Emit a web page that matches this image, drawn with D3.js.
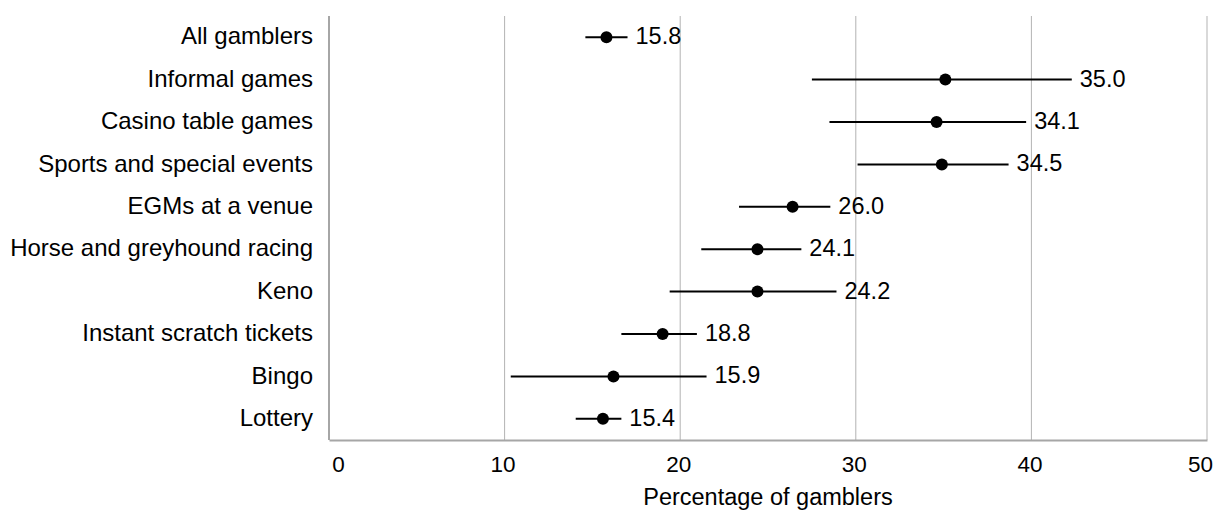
<!DOCTYPE html>
<html>
<head>
<meta charset="utf-8">
<script src="https://cdn.jsdelivr.net/npm/d3@7"></script>
<style>
  html, body { margin: 0; padding: 0; background: #fff; }
  svg { display: block; }
  text { font-family: "Liberation Sans", Arial, Helvetica, sans-serif; fill: #000; }
</style>
</head>
<body>
<svg id="chart" width="1215" height="510"></svg>
<script>
const categories = [
  "All gamblers", "Informal games", "Casino table games", "Sports and special events",
  "EGMs at a venue", "Horse and greyhound racing", "Keno", "Instant scratch tickets",
  "Bingo", "Lottery"
];
const pointValues = [15.8, 35.1, 34.6, 34.9, 26.4, 24.4, 24.4, 19.0, 16.2, 15.6];
const lowerValues = [14.6, 27.5, 28.5, 30.1, 23.35, 21.2, 19.4, 16.65, 10.35, 14.05];
const upperValues = [17.0, 42.3, 39.7, 38.7, 28.55, 26.9, 28.9, 20.95, 21.5, 16.65];
const labelTexts = ["15.8", "35.0", "34.1", "34.5", "26.0", "24.1", "24.2", "18.8", "15.9", "15.4"];
const xTicks = [0, 10, 20, 30, 40, 50];
const xTitle = "Percentage of gamblers";

const data = categories.map((c, i) => ({
  cat: c, v: pointValues[i], lo: lowerValues[i], hi: upperValues[i], label: labelTexts[i]
}));

const FONT = '"Liberation Sans", Arial, Helvetica, sans-serif';
const svg = d3.select("#chart");
const mLeft = 329, mRight = 1207, mTop = 16, mBottom = 440;

const x = d3.scaleLinear().domain([0, 50]).range([mLeft, mRight]);
const y = d3.scaleBand().domain(categories).range([mTop, mBottom]);

// gridlines
svg.append("g")
  .selectAll("line")
  .data(xTicks.filter(t => t > 0))
  .join("line")
  .attr("x1", d => x(d)).attr("x2", d => x(d))
  .attr("y1", mTop).attr("y2", mBottom)
  .attr("stroke", "#b3b3b3").attr("stroke-width", 1);

// left axis line
svg.append("line")
  .attr("x1", mLeft).attr("x2", mLeft).attr("y1", mTop).attr("y2", mBottom)
  .attr("stroke", "#a6a6a6").attr("stroke-width", 2);

// bottom axis
const xAxis = svg.append("g")
  .attr("transform", `translate(0,${mBottom})`)
  .call(d3.axisBottom(x).tickValues(xTicks).tickSize(0).tickPadding(16).tickFormat(d3.format("d")));
xAxis.select(".domain").attr("stroke", "#a6a6a6").attr("stroke-width", 2);
xAxis.selectAll("text").style("font-size", "22.5px").attr("fill", "#000")
  .style("font-family", FONT)
  .attr("dx", (d, i, n) => i === 0 ? 9 : (i === n.length - 1 ? -7 : -2));

// y axis labels
const yAxis = svg.append("g")
  .attr("transform", `translate(${mLeft - 16},0)`)
  .call(d3.axisLeft(y).tickSize(0).tickPadding(0));
yAxis.select(".domain").remove();
yAxis.selectAll("text").style("font-size", "24px").attr("fill", "#000")
  .style("font-family", FONT).attr("dy", "0.3em");

// error bars
const g = svg.append("g");
g.selectAll("line.err")
  .data(data)
  .join("line")
  .attr("class", "err")
  .attr("x1", d => x(d.lo)).attr("x2", d => x(d.hi))
  .attr("y1", d => y(d.cat) + y.bandwidth() / 2)
  .attr("y2", d => y(d.cat) + y.bandwidth() / 2)
  .attr("stroke", "#000").attr("stroke-width", 2);

g.selectAll("circle")
  .data(data)
  .join("circle")
  .attr("cx", d => x(d.v))
  .attr("cy", d => y(d.cat) + y.bandwidth() / 2)
  .attr("r", 6)
  .attr("fill", "#000");

g.selectAll("text.lbl")
  .data(data)
  .join("text")
  .attr("class", "lbl")
  .attr("x", d => x(d.hi) + 8)
  .attr("y", d => y(d.cat) + y.bandwidth() / 2)
  .attr("dy", "0.3em")
  .style("font-size", "23.5px")
  .text(d => d.label);

// x title
svg.append("text")
  .attr("x", (mLeft + mRight) / 2)
  .attr("y", 505)
  .attr("text-anchor", "middle")
  .style("font-size", "23.5px")
  .text(xTitle);
</script>
</body>
</html>
